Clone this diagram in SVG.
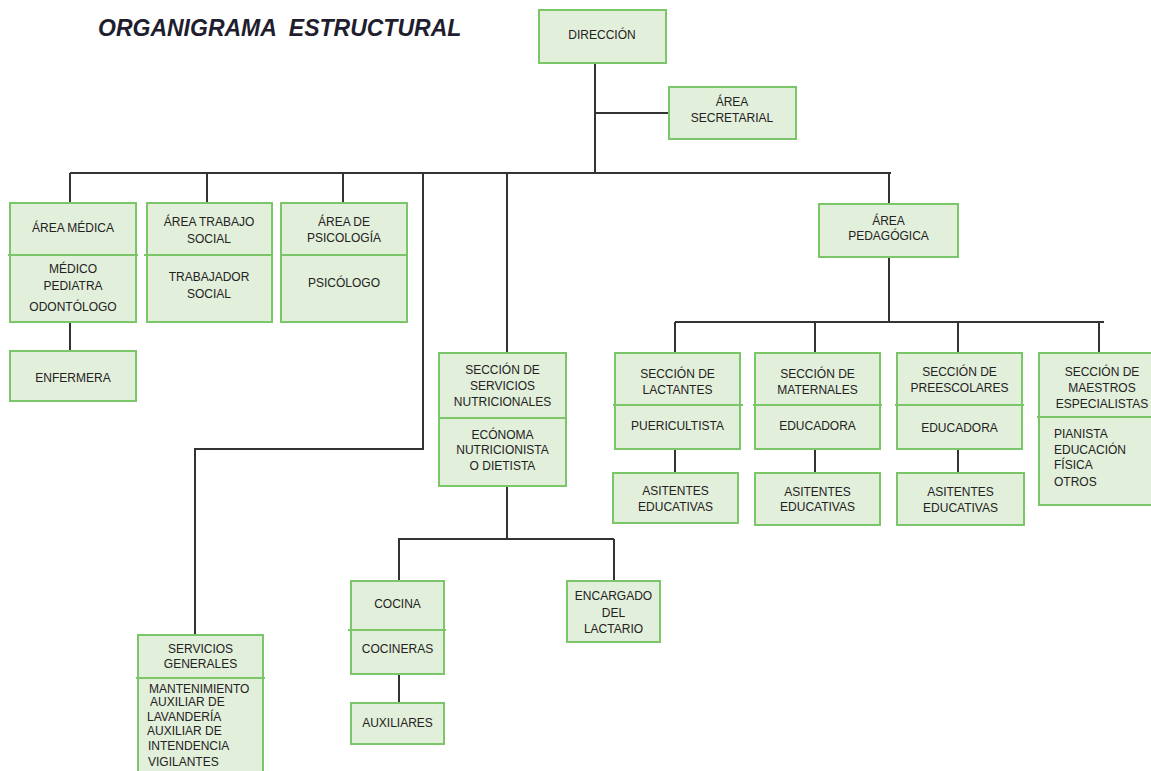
<svg xmlns="http://www.w3.org/2000/svg" width="1151" height="771" viewBox="0 0 1151 771">
<style>
.box{fill:#e2efda;stroke:#7cc66a;stroke-width:2}
.dv{stroke:#7cc66a;stroke-width:2}
.ln{stroke:#333;stroke-width:2;fill:none}
.t{font-family:"Liberation Sans",Arial,sans-serif;font-size:12px;fill:#222;text-anchor:middle}
.tl{text-anchor:start}
.title{font-family:"Liberation Sans",Arial,sans-serif;font-size:23px;font-weight:bold;font-style:italic;fill:#1e1e2e}
</style>
<rect width="1151" height="771" fill="#fff"/>
<text class="title" x="98" y="36" xml:space="preserve">ORGANIGRAMA  ESTRUCTURAL</text>
<g id="connectors">
<path class="ln" d="M595,63 V173 M596,113 H669 M70,173 H891 M70,173 V203 M207,173 V203 M343,173 V203 M423,173 V449 H195 V635 M507,173 V353 M889,173 V204 M70,322 V351 M507,486 V539 M398,539 H614 M399,539 V581 M614,539 V581 M399,674 V703 M889,257 V322 M675,322 H1104 M675,322 V353 M815,322 V353 M958,322 V353 M1099,322 V353 M675,449 V473 M815,449 V473 M958,449 V473"/>
</g>
<g id="direccion"><rect class="box" x="539" y="10" width="127" height="53"/><text class="t" x="602" y="39">DIRECCIÓN</text></g>
<g id="secretarial"><rect class="box" x="669" y="87" width="127" height="52"/><text class="t" x="732" y="106">ÁREA</text><text class="t" x="732" y="122">SECRETARIAL</text></g>
<g id="medica"><rect class="box" x="10" y="203" width="126" height="119"/><line class="dv" x1="8" y1="255" x2="138" y2="255"/>
<text class="t" x="73" y="232">ÁREA MÉDICA</text><text class="t" x="73" y="273">MÉDICO</text><text class="t" x="73" y="290">PEDIATRA</text><text class="t" x="73" y="311">ODONTÓLOGO</text></g>
<g id="enfermera"><rect class="box" x="10" y="351" width="126" height="50"/><text class="t" x="73" y="382">ENFERMERA</text></g>
<g id="trabajo"><rect class="box" x="147" y="203" width="125" height="119"/><line class="dv" x1="144" y1="255" x2="272" y2="255"/>
<text class="t" x="209" y="226">ÁREA TRABAJO</text><text class="t" x="209" y="243">SOCIAL</text><text class="t" x="209" y="281">TRABAJADOR</text><text class="t" x="209" y="298">SOCIAL</text></g>
<g id="psicologia"><rect class="box" x="281" y="203" width="126" height="119"/><line class="dv" x1="281" y1="255" x2="407" y2="255"/>
<text class="t" x="344" y="226">ÁREA DE</text><text class="t" x="344" y="242">PSICOLOGÍA</text><text class="t" x="344" y="287">PSICÓLOGO</text></g>
<g id="nutricionales"><rect class="box" x="439" y="353" width="127" height="133"/><line class="dv" x1="439" y1="418" x2="566" y2="418"/>
<text class="t" x="502.5" y="374">SECCIÓN DE</text><text class="t" x="502.5" y="390">SERVICIOS</text><text class="t" x="502.5" y="406">NUTRICIONALES</text>
<text class="t" x="502.5" y="438.5">ECÓNOMA</text><text class="t" x="502.5" y="454">NUTRICIONISTA</text><text class="t" x="502.5" y="470">O DIETISTA</text></g>
<g id="cocina"><rect class="box" x="351" y="581" width="93" height="93"/><line class="dv" x1="348" y1="630" x2="446" y2="630"/>
<text class="t" x="397.5" y="608">COCINA</text><text class="t" x="397.5" y="652.5">COCINERAS</text></g>
<g id="auxiliares"><rect class="box" x="351" y="703" width="93" height="41"/><text class="t" x="397.5" y="726.5">AUXILIARES</text></g>
<g id="lactario"><rect class="box" x="567" y="581" width="93" height="61"/>
<text class="t" x="613.5" y="600">ENCARGADO</text><text class="t" x="613.5" y="617">DEL</text><text class="t" x="613.5" y="632.5">LACTARIO</text></g>
<g id="generales"><rect class="box" x="138" y="635" width="125" height="150"/><line class="dv" x1="136" y1="678" x2="265" y2="678"/>
<text class="t" x="200.5" y="652.5">SERVICIOS</text><text class="t" x="200.5" y="667.5">GENERALES</text>
<text class="t tl" x="149" y="692.5">MANTENIMIENTO</text><text class="t tl" x="150" y="706">AUXILIAR DE</text><text class="t tl" x="147" y="721">LAVANDERÍA</text><text class="t tl" x="147" y="734.5">AUXILIAR DE</text><text class="t tl" x="148" y="750">INTENDENCIA</text><text class="t tl" x="148" y="766">VIGILANTES</text></g>
<g id="pedagogica"><rect class="box" x="819" y="204" width="139" height="53"/><text class="t" x="888.5" y="224.5">ÁREA</text><text class="t" x="888.5" y="239.5">PEDAGÓGICA</text></g>
<g id="lactantes"><rect class="box" x="615" y="353" width="125" height="96"/><line class="dv" x1="613" y1="405" x2="743" y2="405"/>
<text class="t" x="677.5" y="378">SECCIÓN DE</text><text class="t" x="677.5" y="393.5">LACTANTES</text><text class="t" x="677.5" y="430">PUERICULTISTA</text></g>
<g id="asistentes1"><rect class="box" x="613" y="473" width="125" height="50"/><text class="t" x="675.5" y="495">ASITENTES</text><text class="t" x="675.5" y="510.5">EDUCATIVAS</text></g>
<g id="maternales"><rect class="box" x="755" y="353" width="125" height="96"/><line class="dv" x1="753" y1="405" x2="882" y2="405"/>
<text class="t" x="817.5" y="378">SECCIÓN DE</text><text class="t" x="817.5" y="393.5">MATERNALES</text><text class="t" x="817.5" y="430">EDUCADORA</text></g>
<g id="asistentes2"><rect class="box" x="755" y="473" width="125" height="52"/><text class="t" x="817.5" y="496">ASITENTES</text><text class="t" x="817.5" y="511">EDUCATIVAS</text></g>
<g id="preescolares"><rect class="box" x="897" y="353" width="125" height="96"/><line class="dv" x1="895" y1="405" x2="1024" y2="405"/>
<text class="t" x="959.5" y="376">SECCIÓN DE</text><text class="t" x="959.5" y="391.5">PREESCOLARES</text><text class="t" x="959.5" y="432">EDUCADORA</text></g>
<g id="asistentes3"><rect class="box" x="897" y="473" width="127" height="52"/><text class="t" x="960.5" y="496">ASITENTES</text><text class="t" x="960.5" y="511.5">EDUCATIVAS</text></g>
<g id="maestros"><rect class="box" x="1039" y="353" width="130" height="152"/><line class="dv" x1="1037" y1="417" x2="1151" y2="417"/>
<text class="t" x="1102" y="376">SECCIÓN DE</text><text class="t" x="1102" y="392">MAESTROS</text><text class="t" x="1102" y="407.5">ESPECIALISTAS</text>
<text class="t tl" x="1054" y="437.5">PIANISTA</text><text class="t tl" x="1054" y="453.5">EDUCACIÓN</text><text class="t tl" x="1054" y="469">FÍSICA</text><text class="t tl" x="1054" y="486">OTROS</text></g>
</svg>
